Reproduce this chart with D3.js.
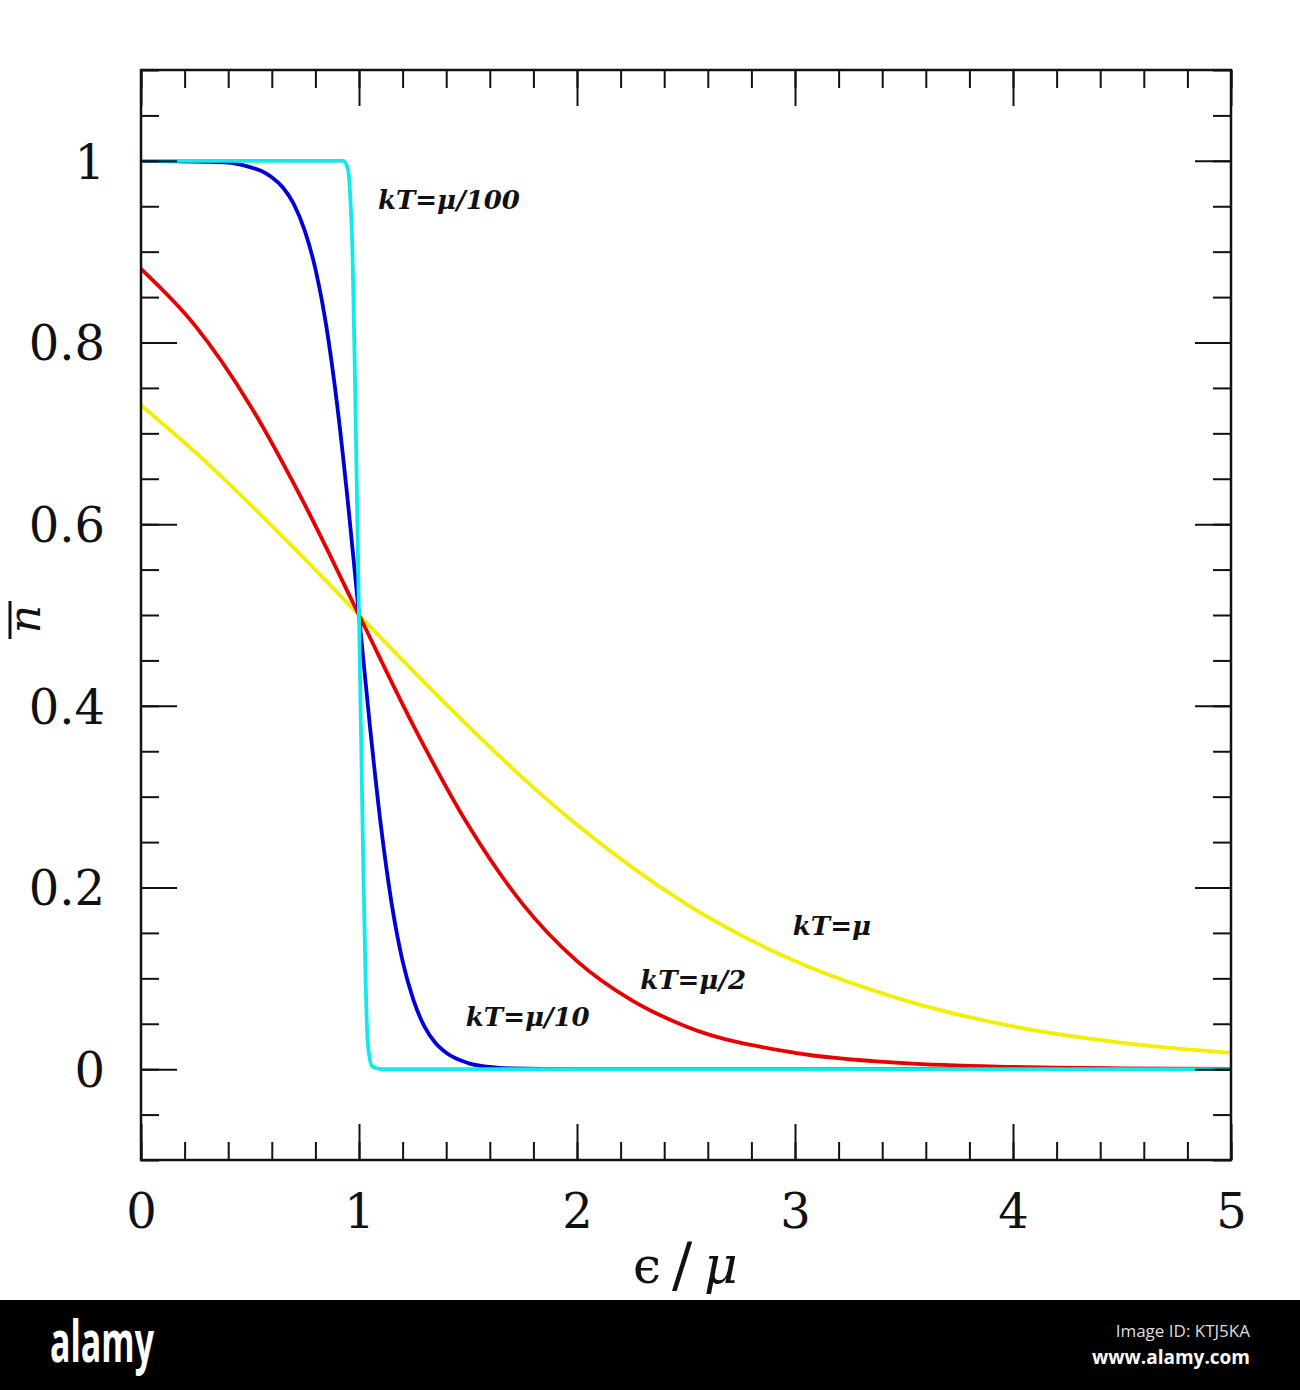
<!DOCTYPE html>
<html><head><meta charset="utf-8">
<script src="https://cdn.jsdelivr.net/npm/d3@7"></script>
<style>body{margin:0;background:#fff}svg{display:block}</style>
</head><body>
<script>
// ---- data ----
const xTicksMajor = [0,1,2,3,4,5];
const yTicksMajor = [0,0.2,0.4,0.6,0.8,1];
const yTickLabels = ["0","0.2","0.4","0.6","0.8","1"];

const xCyan = [0,0.93,0.95,0.96,0.97,0.98,0.99,1.0,1.01,1.02,1.03,1.04,1.06,1.1,2,5];
const yCyan = [1,1,0.99,0.96,0.90,0.78,0.64,0.5,0.36,0.22,0.10,0.03,0.003,0,0,0];

const xBlue = [0,0.3,0.4,0.5,0.55,0.6,0.65,0.7,0.75,0.8,0.85,0.9,0.95,1.0,1.05,1.1,1.15,1.2,1.25,1.3,1.35,1.4,1.5,1.6,1.7,2.0,3,5];
const yBlue = [1,0.999,0.998,0.993,0.989,0.982,0.971,0.953,0.924,0.881,0.818,0.731,0.622,0.5,0.378,0.269,0.182,0.119,0.076,0.047,0.029,0.018,0.0067,0.0025,0.0009,0.00005,0,0];

const xRed = [0,0.25,0.5,0.75,1,1.25,1.5,1.75,2,2.25,2.5,3,3.5,4,4.5,5];
const yRed = [0.881,0.818,0.731,0.622,0.5,0.378,0.269,0.182,0.119,0.076,0.047,0.018,0.0067,0.0025,0.0009,0.0003];

const xYellow = [0,0.25,0.5,0.75,1,1.25,1.5,1.75,2,2.5,3,3.5,4,4.5,5];
const yYellow = [0.731,0.679,0.622,0.562,0.5,0.438,0.378,0.321,0.269,0.182,0.119,0.076,0.047,0.029,0.018];

const curveLabels = ["kT=\u03bc/100","kT=\u03bc/10","kT=\u03bc/2","kT=\u03bc"];
const curveLabelPos = [[1.087,0.947],[1.49,0.048],[2.29,0.088],[2.99,0.148]]; // data coords of label start

// ---- drawing ----
const W=1300,H=1390;
const svg=d3.select("body").append("svg").attr("width",W).attr("height",H);
svg.append("rect").attr("width",W).attr("height",H).attr("fill","#fff");

const x=d3.scaleLinear().domain([0,5]).range([141,1231]);
const y=d3.scaleLinear().domain([-0.1,1.1]).range([1160,70]);

const minorX=d3.range(0,5.0001,0.2).map(v=>+v.toFixed(2));
const minorY=d3.range(-0.1,1.1001,0.05).map(v=>+v.toFixed(2));

const plot=svg.append("g");
const line=d3.line().x(d=>x(d[0])).y(d=>y(d[1])).curve(d3.curveMonotoneX);
const series=[
  [xYellow,yYellow,"#f4ee00"],
  [xRed,yRed,"#e60000"],
  [xBlue,yBlue,"#0000d6"],
  [xCyan,yCyan,"#10eaea"]
];
series.forEach(([xs,ys,c])=>{
  plot.append("path").datum(xs.map((v,i)=>[v,ys[i]]))
    .attr("d",line).attr("fill","none").attr("stroke",c).attr("stroke-width",3.8)
    .attr("stroke-linejoin","round");
});

function axisG(axis,tr){
  const g=svg.append("g").attr("transform",tr).call(axis);
  g.select(".domain").remove();
  g.selectAll("line").attr("stroke","#111").attr("stroke-width",2);
  return g;
}
// minor ticks
axisG(d3.axisBottom(x).tickValues(minorX).tickSize(-18).tickFormat(""),"translate(0,1160)");
axisG(d3.axisTop(x).tickValues(minorX).tickSize(-18).tickFormat(""),"translate(0,70)");
axisG(d3.axisLeft(y).tickValues(minorY).tickSize(-18).tickFormat(""),"translate(141,0)");
axisG(d3.axisRight(y).tickValues(minorY).tickSize(-18).tickFormat(""),"translate(1231,0)");
// major ticks
const bx=axisG(d3.axisBottom(x).tickValues(xTicksMajor).tickSize(-36).tickPadding(68).tickFormat(d3.format("d")),"translate(0,1160)");
axisG(d3.axisTop(x).tickValues(xTicksMajor).tickSize(-36).tickFormat(""),"translate(0,70)");
const ly=axisG(d3.axisLeft(y).tickValues(yTicksMajor).tickSize(-36).tickPadding(36).tickFormat((d,i)=>yTickLabels[i]),"translate(141,0)");
axisG(d3.axisRight(y).tickValues(yTicksMajor).tickSize(-36).tickFormat(""),"translate(1231,0)");

[bx,ly].forEach(g=>g.selectAll("text").attr("font-family","'DejaVu Serif',serif").attr("font-size",48).attr("fill","#111"));
bx.selectAll("text").attr("dy","0");
ly.selectAll("text").attr("dy","0.36em");

// frame
svg.append("rect").attr("x",141).attr("y",70).attr("width",1090).attr("height",1090)
  .attr("fill","none").attr("stroke","#111").attr("stroke-width",2.5);

// axis titles
const tf="'DejaVu Serif',serif";
svg.append("text").attr("x",647).attr("y",1283).attr("text-anchor","middle")
  .attr("font-family",tf).attr("font-size",50).attr("fill","#111").text("\u03f5");
svg.append("text").attr("x",682).attr("y",1285).attr("text-anchor","middle")
  .attr("font-family",tf).attr("font-size",60).attr("fill","#111").text("/");
svg.append("text").attr("x",721).attr("y",1283).attr("text-anchor","middle")
  .attr("font-family",tf).attr("font-style","italic").attr("font-size",52).attr("fill","#111").text("\u03bc");

svg.append("text").attr("transform","translate(40,619) rotate(-90)").attr("text-anchor","middle")
  .attr("font-family",tf).attr("font-style","italic").attr("font-size",44).attr("fill","#111")
  .text("n");
svg.append("line").attr("x1",10).attr("x2",10).attr("y1",601).attr("y2",639)
  .attr("stroke","#111").attr("stroke-width",3);

// curve labels
curveLabels.forEach((t,i)=>{
  svg.append("text").attr("x",x(curveLabelPos[i][0])).attr("y",y(curveLabelPos[i][1]))
    .attr("font-family",tf).attr("font-style","italic").attr("font-weight","bold")
    .attr("font-size",26).attr("fill","#111").text(t);
});

// bottom band
svg.append("rect").attr("x",0).attr("y",1300).attr("width",W).attr("height",90).attr("fill","#000");
svg.append("text").attr("x",50).attr("y",1362).attr("font-family","'Open Sans','DejaVu Sans',sans-serif")
  .attr("font-weight","bold").attr("font-size",58).attr("fill","#fff").attr("textLength",104).attr("lengthAdjust","spacingAndGlyphs").text("alamy");
svg.append("text").attr("x",1250).attr("y",1337).attr("text-anchor","end").attr("font-family","'Open Sans','DejaVu Sans',sans-serif")
  .attr("font-size",17).attr("fill","#ddd").text("Image ID: KTJ5KA");
svg.append("text").attr("x",1250).attr("y",1364).attr("text-anchor","end").attr("font-family","'Open Sans','DejaVu Sans',sans-serif")
  .attr("font-weight","bold").attr("font-size",19).attr("fill","#fff").text("www.alamy.com");
</script>
</body></html>
